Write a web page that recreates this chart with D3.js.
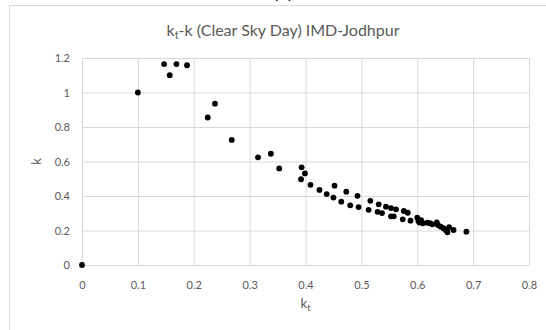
<!DOCTYPE html>
<html>
<head>
<meta charset="utf-8">
<script src="https://cdn.jsdelivr.net/npm/d3@7/dist/d3.min.js"></script>
<style>
  html, body { margin: 0; padding: 0; background: #fff; }
  svg { display: block; }
  text { font-family: Lato, "Open Sans", sans-serif; fill: #595959; }
</style>
</head>
<body>
<div id="chart"></div>
<script>
// Clearness index kt against diffuse fraction k, clear sky day, IMD Jodhpur
const kt = [0, 0.100, 0.147, 0.157, 0.169, 0.188, 0.225, 0.238, 0.268, 0.315,
  0.338, 0.353, 0.393, 0.399, 0.392, 0.409, 0.425, 0.438, 0.452, 0.450,
  0.473, 0.464, 0.480, 0.493, 0.495, 0.516, 0.513, 0.531, 0.529, 0.537,
  0.544, 0.553, 0.562, 0.553, 0.558, 0.576, 0.583, 0.574, 0.588, 0.600,
  0.602, 0.604, 0.610, 0.607, 0.618, 0.623, 0.627, 0.635, 0.637, 0.642,
  0.647, 0.651, 0.654, 0.657, 0.665, 0.688];
const k = [0, 1.000, 1.165, 1.100, 1.165, 1.158, 0.855, 0.935, 0.725, 0.624,
  0.645, 0.560, 0.566, 0.531, 0.497, 0.465, 0.435, 0.411, 0.460, 0.391,
  0.425, 0.367, 0.346, 0.401, 0.336, 0.372, 0.320, 0.352, 0.308, 0.301,
  0.338, 0.330, 0.323, 0.282, 0.282, 0.313, 0.303, 0.265, 0.257, 0.275,
  0.255, 0.247, 0.242, 0.260, 0.245, 0.242, 0.236, 0.247, 0.232, 0.222,
  0.213, 0.203, 0.190, 0.219, 0.203, 0.193];
const xTicks = [0, 0.1, 0.2, 0.3, 0.4, 0.5, 0.6, 0.7, 0.8];
const yTicks = [0, 0.2, 0.4, 0.6, 0.8, 1, 1.2];

const W = 546, H = 330;
const plot = { left: 82, right: 529, top: 58, bottom: 265 };

const svg = d3.select("#chart").append("svg")
  .attr("width", W).attr("height", H);

// chart frame (runs past the right and bottom edges)
svg.append("rect")
  .attr("x", 9.5).attr("y", 5.5)
  .attr("width", 560).attr("height", 340)
  .attr("fill", "#fff").attr("stroke", "#d9d9d9").attr("stroke-width", 1);

// panel label above the frame
svg.append("text")
  .attr("x", 283).attr("y", -2)
  .attr("text-anchor", "middle")
  .style("font-size", "22px").style("fill", "#000")
  .text("(c)");

const x = d3.scaleLinear().domain([0, 0.8]).range([plot.left, plot.right]);
const y = d3.scaleLinear().domain([0, 1.2]).range([plot.bottom, plot.top]);

// gridlines
svg.append("g")
  .attr("transform", `translate(0,${plot.bottom})`)
  .call(d3.axisBottom(x).tickValues(xTicks)
    .tickSize(-(plot.bottom - plot.top)).tickFormat(""))
  .call(g => g.select(".domain").remove())
  .call(g => g.selectAll("line").attr("stroke", "#d9d9d9").attr("stroke-width", 1));

svg.append("g")
  .attr("transform", `translate(${plot.left},0)`)
  .call(d3.axisLeft(y).tickValues(yTicks)
    .tickSize(-(plot.right - plot.left)).tickFormat(""))
  .call(g => g.select(".domain").remove())
  .call(g => g.selectAll("line").attr("stroke", "#d9d9d9").attr("stroke-width", 1));

// tick labels
svg.append("g")
  .attr("transform", `translate(0,${plot.bottom})`)
  .call(d3.axisBottom(x).tickValues(xTicks).tickSize(0).tickPadding(16)
    .tickFormat(d => d3.format("")(+d.toFixed(1))))
  .call(g => g.select(".domain").remove())
  .call(g => g.selectAll("text").style("font-size", "11px")
    .style("font-family", "Lato, sans-serif").attr("fill", "#595959"));

svg.append("g")
  .attr("transform", `translate(${plot.left},0)`)
  .call(d3.axisLeft(y).tickValues(yTicks).tickSize(0).tickPadding(12)
    .tickFormat(d => d3.format("")(+d.toFixed(1))))
  .call(g => g.select(".domain").remove())
  .call(g => g.selectAll("text").style("font-size", "11px")
    .style("font-family", "Lato, sans-serif").attr("fill", "#595959"));

// points
const pts = kt.map((v, i) => ({ kt: v, k: k[i] }));
svg.append("g").selectAll("circle")
  .data(pts).join("circle")
  .attr("cx", d => x(d.kt)).attr("cy", d => y(d.k))
  .attr("r", 2.9).attr("fill", "#000");

// title
const title = svg.append("text")
  .attr("x", 283).attr("y", 36)
  .attr("text-anchor", "middle")
  .style("font-size", "16px");
title.append("tspan").text("k");
title.append("tspan").attr("dy", 3).style("font-size", "11px").text("t");
title.append("tspan").attr("dy", -3).text("-k (Clear Sky Day) IMD-Jodhpur");

// axis titles
const xt = svg.append("text")
  .attr("x", (plot.left + plot.right) / 2).attr("y", 308)
  .attr("text-anchor", "middle")
  .style("font-size", "13px");
xt.append("tspan").text("k");
xt.append("tspan").attr("dy", 3).style("font-size", "9px").text("t");

svg.append("text")
  .attr("transform", `translate(41,${(plot.top + plot.bottom) / 2}) rotate(-90)`)
  .attr("text-anchor", "middle")
  .style("font-size", "13px")
  .text("k");
</script>
</body>
</html>
